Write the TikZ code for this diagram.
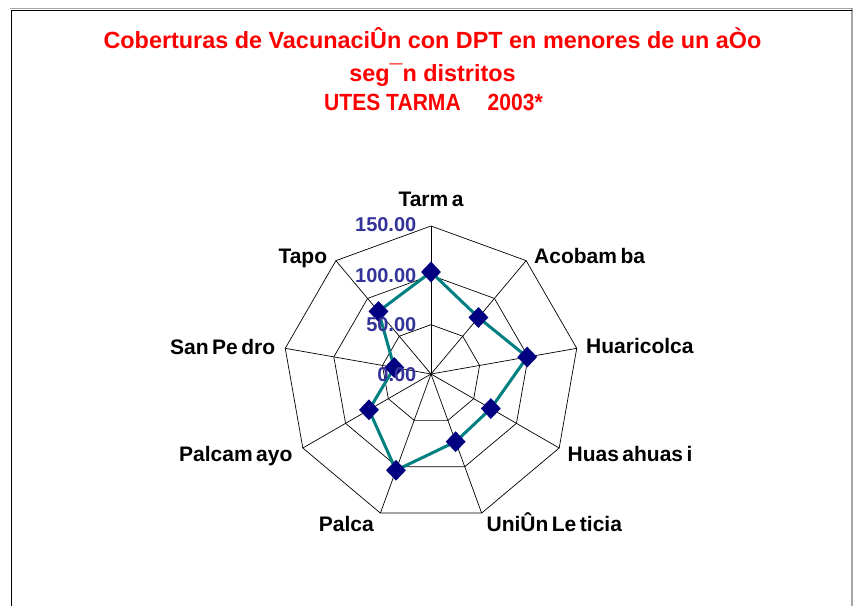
\documentclass[tikz,border=0pt]{standalone}
\usepackage{fontspec}
\setmainfont{Liberation Sans}
\usetikzlibrary{shapes.geometric}
\definecolor{titlered}{RGB}{255,0,0}
\definecolor{tickblue}{RGB}{51,51,153}
\definecolor{serteal}{RGB}{0,128,128}
\definecolor{marknavy}{RGB}{0,0,128}
\newcommand{\gp}{\hspace{3.5pt}}
\begin{document}
\begin{tikzpicture}[x=1pt,y=-1pt,
  titletext/.style={text=titlered, inner sep=0pt, anchor=base, font=\bfseries\fontsize{23.4}{26}\selectfont},
  axislabel/.style={text=black, inner sep=0pt, font=\bfseries\fontsize{21}{24}\selectfont},
  ticklabel/.style={text=tickblue, inner sep=0pt, anchor=base east, font=\bfseries\fontsize{20}{22}\selectfont},
  gridline/.style={draw=black, line width=0.7pt},
  serieline/.style={draw=serteal, line width=3pt, line join=round},
  markbox/.style={diamond, fill=marknavy, minimum width=20pt, minimum height=21pt, inner sep=0pt}]
\useasboundingbox (0,0) rectangle (853,606);
\fill[white] (0,0) rectangle (853,606);
% frame
\draw[gray!70, line width=1pt] (10,8.3) -- (853,8.3);
\draw[gray!70, line width=1.2pt] (852,8.3) -- (852,606);
\draw[black, line width=1pt] (11.5,10) -- (852,10);
\draw[black, line width=1pt] (11.5,10) -- (11.5,606);
% title
\node[titletext] (t1) at (432.5,48.3) {Coberturas de VacunaciÛn con DPT en menores de un aÒo};
\node[titletext] (t2) at (432.5,81) {seg¯n distritos};
\node[titletext] (t3) at (433.5,110) {\scalebox{0.9}[1]{UTES TARMA\hspace{30pt}2003*}};
% radar grid
\begin{scope}[shift={(431,374)}, yscale=-1]
  \coordinate (c) at (0,0);
  \foreach \i/\a in {1/90,2/50,3/10,4/-30,5/-70,6/-110,7/-150,8/170,9/130} {
    \coordinate (o\i) at (\a:148);
    \coordinate (rb\i) at (\a:98.667);
    \coordinate (ra\i) at (\a:49.333);
  }
  \draw[gridline] (o1) -- (o2) -- (o3) -- (o4) -- (o5) -- (o6) -- (o7) -- (o8) -- (o9) -- cycle;
  \draw[gridline] (rb1) -- (rb2) -- (rb3) -- (rb4) -- (rb5) -- (rb6) -- (rb7) -- (rb8) -- (rb9) -- cycle;
  \draw[gridline] (ra1) -- (ra2) -- (ra3) -- (ra4) -- (ra5) -- (ra6) -- (ra7) -- (ra8) -- (ra9) -- cycle;
  \foreach \i in {1,...,9} { \draw[gridline] (c) -- (o\i); }
  % data
  \foreach \i/\a/\v in {1/90/103.4,2/50/74.8,3/10/99,4/-30/70,5/-70/73,6/-110/103.8,7/-150/72.6,8/170/37.8,9/130/82.8} {
    \coordinate (p\i) at (\a:{\v*148/150});
  }
  \draw[serieline] (p1) -- (p2) -- (p3) -- (p4) -- (p5) -- (p6) -- (p7) -- (p8) -- (p9) -- cycle;
  \foreach \i in {1,...,9} { \node[markbox] (m\i) at (p\i) {}; }
\end{scope}
% tick labels
\node[ticklabel] (v150) at (416.5,231.8) {150.00};
\node[ticklabel] (v100) at (416.5,282.3) {100.00};
\node[ticklabel] (v50) at (416.5,331.8) {50.00};
\node[ticklabel] (v0) at (416.5,381) {0.00};
% axis labels
\node[axislabel, anchor=base] (lTarma) at (431,206) {Tarm\gp a};
\node[axislabel, anchor=base west] (lAcobamba) at (534,263.3) {Acobam\gp ba};
\node[axislabel, anchor=base west] (lHuaricolca) at (586,353.5) {Huaricolca};
\node[axislabel, anchor=base west] (lHuasahuasi) at (567.4,461) {Huas\gp ahuas\gp i};
\node[axislabel, anchor=base west] (lUnion) at (486.4,531.4) {UniÛn\gp Le\gp ticia};
\node[axislabel, anchor=base east] (lPalca) at (374,531.4) {Palca};
\node[axislabel, anchor=base east] (lPalcamayo) at (292.6,461) {Palcam\gp ayo};
\node[axislabel, anchor=base east] (lSanPedro) at (275.4,354) {San\gp Pe\gp dro};
\node[axislabel, anchor=base east] (lTapo) at (327.3,263.3) {Tapo};
\end{tikzpicture}
\end{document}
